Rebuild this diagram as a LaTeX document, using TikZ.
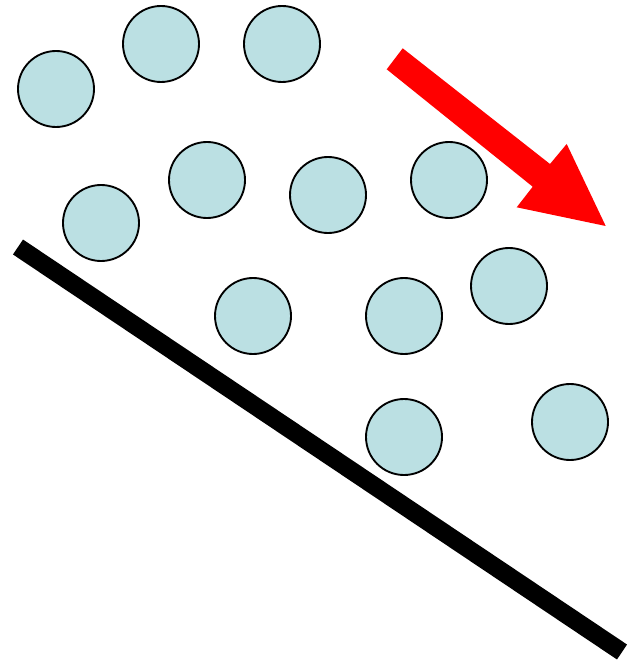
\documentclass[tikz,border=0pt]{standalone}
\definecolor{ball}{RGB}{187,224,227}
\tikzset{ballc/.style={circle,draw=black,line width=1.4pt,fill=ball,minimum size=57pt,inner sep=0pt}}
\begin{document}
\begin{tikzpicture}[x=0.75pt,y=-0.75pt]
\useasboundingbox (0,0) rectangle (635,666);
\node[ballc] (c1) at (56,89) {};
\node[ballc] (c2) at (161,44) {};
\node[ballc] (c3) at (282,44) {};
\node[ballc] (c4) at (101,223) {};
\node[ballc] (c5) at (207,180) {};
\node[ballc] (c6) at (328,195) {};
\node[ballc] (c7) at (449,180) {};
\node[ballc] (c8) at (253,316) {};
\node[ballc] (c9) at (404,316) {};
\node[ballc] (c10) at (509,286) {};
\node[ballc] (c11) at (404,437) {};
\node[ballc] (c12) at (570,422) {};
\draw[line width=13.5pt] (18,247) -- (622,652);
\fill[red] (402.7,48.3) -- (550,164) -- (566.7,144) -- (605.7,226) -- (516.7,207.3) -- (532.7,186.7) -- (386.7,69.3) -- cycle;
\end{tikzpicture}
\end{document}
